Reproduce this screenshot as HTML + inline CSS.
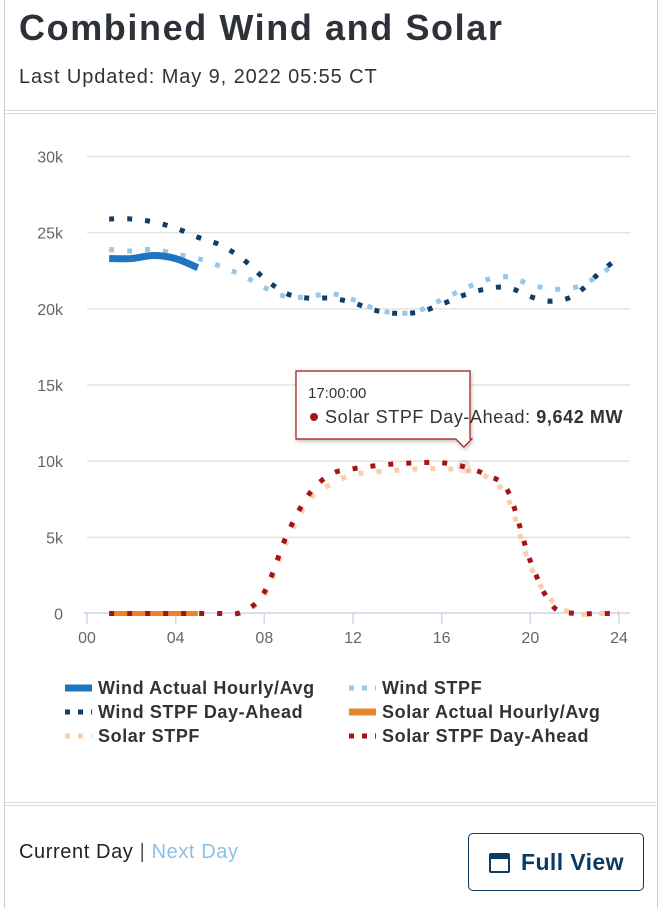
<!DOCTYPE html>
<html><head><meta charset="utf-8">
<style>
body{margin:0;width:660px;height:900px;background:#fff;font-family:"Liberation Sans",sans-serif;position:relative;overflow:hidden}
.frame{position:absolute;left:4px;top:-2px;width:652px;height:910px;border-left:1px solid #c8ccd0;border-right:1px solid #c8ccd0}
h1{position:absolute;left:19px;top:7px;margin:0;font-size:36px;font-weight:bold;color:#2d3139;letter-spacing:1.6px}
.upd{position:absolute;left:19px;top:66px;font-size:20px;color:#333;letter-spacing:0.9px}
.sep{position:absolute;left:5px;width:651px;height:1px;background:#dcdcdc}
.bottom{position:absolute;left:19px;top:841px;font-size:20px;color:#222;letter-spacing:0.6px}
.bottom .nd{color:#8ec1e6}
.btn{position:absolute;left:468px;top:833px;width:176px;height:58px;border:1.5px solid #0b3b63;border-radius:5px;box-sizing:border-box;color:#0b3b63;font-weight:bold;font-size:23px}
.btn span{position:absolute;left:52px;top:15px;letter-spacing:0.4px}
.btn .ic{position:absolute;left:20px;top:19px;width:21px;height:20px;border:2.5px solid #0b3b63;border-top-width:6px;border-radius:2px;box-sizing:border-box}
</style></head><body>
<div class="frame"></div>
<h1>Combined Wind and Solar</h1>
<div class="upd">Last Updated: May 9, 2022 05:55 CT</div>
<div class="sep" style="top:110px"></div>
<div class="sep" style="top:113px"></div>
<svg id="chart" style="position:absolute;left:0;top:0" width="660" height="800"></svg>
<div class="sep" style="top:802px"></div>
<div class="sep" style="top:805px"></div>
<div class="bottom"><span>Current Day</span> <span style="color:#555">|</span> <span class="nd">Next Day</span></div>
<div class="btn"><div class="ic"></div><span>Full View</span></div>
<script>
const hours=[1,2,3,4,5,6,7,8,9,10,11,12,13,14,15,16,17,18,19,20,21,22,23,24];
const windActual=[23.3,23.3,23.5,23.3,22.7];
const windStpf=[23.9,23.8,23.9,23.6,23.3,22.8,22.2,21.4,20.8,20.8,21.0,20.6,20.0,19.7,19.9,20.6,21.3,21.9,22.1,21.6,21.3,21.4,22.1,23.2];
const windDA=[25.9,25.9,25.7,25.3,24.7,24.2,23.3,22.0,21.0,20.7,20.7,20.4,19.9,19.7,19.8,20.3,20.9,21.3,21.4,20.8,20.5,20.9,22.2,23.4];
const solarActual=[0,0,0,0,0];
const solarStpf=[0,0,0,0,0,0,0.1,1.2,4.7,7.4,8.5,9.1,9.3,9.4,9.5,9.5,9.4,9.0,7.5,3.1,0.8,0,0,0];
const solarDA=[0,0,0,0,0,0,0.1,1.4,5.1,7.8,9.15,9.5,9.7,9.83,9.9,9.9,9.642,9.1,8.0,3.45,0.5,0,0,0];
const yTicks=[0,5,10,15,20,25,30];
const xTicks=[0,4,8,12,16,20,24];
const X=h=>87+h*(532/24);
const Y=v=>613.5-v*(457/30);
const svg=document.getElementById('chart');
const NS='http://www.w3.org/2000/svg';
function mk(t,a){const e=document.createElementNS(NS,t);for(const k in a)e.setAttribute(k,a[k]);svg.appendChild(e);return e;}
yTicks.forEach(v=>{
 if(v>0){const g=mk('line',{x1:87,x2:630,y1:Y(v),y2:Y(v),stroke:'#e3e3e3','stroke-width':1.5});
 
 }
 const t=mk('text',{x:63,y:Y(v)+6,'text-anchor':'end','font-size':16,fill:'#666','font-family':'Liberation Sans, sans-serif'});
 t.textContent=v===0?'0':v+'k';
 
 
});
const ax=mk('line',{x1:84,x2:630,y1:613,y2:613,stroke:'#ccd6eb','stroke-width':1.5});


xTicks.forEach(h=>{
 const tk=mk('line',{x1:X(h),x2:X(h),y1:613,y2:624,stroke:'#ccd6eb','stroke-width':1.5});
 
 
 const t=mk('text',{x:X(h),y:643,'text-anchor':'middle','font-size':16,fill:'#666','font-family':'Liberation Sans, sans-serif'});
 t.textContent=String(h).padStart(2,'0');
 
 
});
function pathD(vals){
 const pts=vals.map((v,i)=>[X(hours[i]),Y(v)]);
 let d='M'+pts[0][0]+','+pts[0][1];
 for(let i=1;i<pts.length;i++){
  const p0=pts[i-2]||pts[i-1],p1=pts[i-1],p2=pts[i],p3=pts[i+1]||p2;
  const c1x=p1[0]+(p2[0]-p0[0])/6,c1y=p1[1]+(p2[1]-p0[1])/6,c2x=p2[0]-(p3[0]-p1[0])/6,c2y=p2[1]-(p3[1]-p1[1])/6;
  d+=' C'+c1x+','+c1y+' '+c2x+','+c2y+' '+p2[0]+','+p2[1];
 }
 return d;
}
function series(vals,color,w,dash,name){
 const a={d:pathD(vals),fill:'none',stroke:color,'stroke-width':w};
 if(dash)a['stroke-dasharray']=dash;
 const p=mk('path',a);
 
 
}
series(solarStpf,'#f9cfa8',5,'5,13','solar-stpf-line');
series(solarActual,'#e8862a',5,null,'solar-actual-line');
series(solarDA,'#a31515',5,'5,13','solar-stpf-day-ahead-line');
series(windStpf,'#97c8ea',5,'5,13','wind-stpf-line');
series(windDA,'#123e66',5,'5,13','wind-stpf-day-ahead-line');
series(windActual,'#1f74c1',7,null,'wind-actual-line');
// tooltip
const tx=X(17),ty=Y(solarDA[16]);
const hm=mk('circle',{cx:tx,cy:ty,r:7,fill:'#a31515','fill-opacity':0.12});


const tp=mk('path',{d:`M296,371 H470 V439 H${tx+8} L${tx},447 L${tx-8},439 H296 Z`,fill:'#fff',stroke:'#a31515','stroke-width':1.2,'filter':'drop-shadow(1px 2px 2px rgba(0,0,0,0.25))'});


const t1=mk('text',{x:308,y:398,'font-size':15,fill:'#333','font-family':'Liberation Sans, sans-serif'});t1.textContent='17:00:00';


const tc=mk('circle',{cx:314,cy:417,r:4,fill:'#a31515'});


const t2=mk('text',{x:325,y:423,'font-size':18,'letter-spacing':0.6,fill:'#333','font-family':'Liberation Sans, sans-serif'});
t2.innerHTML='Solar STPF Day-Ahead: <tspan font-weight="bold">9,642 MW</tspan>';


// legend
const legend=[['Wind Actual Hourly/Avg','#1f74c1',null,65,688],['Wind STPF','#97c8ea','5,8',349,688],['Wind STPF Day-Ahead','#123e66','5,8',65,712],['Solar Actual Hourly/Avg','#e8862a',null,349,712],['Solar STPF','#f9cfa8','5,8',65,736],['Solar STPF Day-Ahead','#a31515','5,8',349,736]];
legend.forEach(l=>{
 const a={x1:l[3],x2:l[3]+27,y1:l[4],y2:l[4],stroke:l[1],'stroke-width':l[2]?5:7};
 if(l[2])a['stroke-dasharray']=l[2];
 const s=mk('line',a);
 
 
 const t=mk('text',{x:l[3]+33,y:l[4]+6,'font-size':18,'letter-spacing':0.6,'font-weight':'bold',fill:'#333','font-family':'Liberation Sans, sans-serif'});
 t.textContent=l[0];
 
 
});
</script>
</body></html>
